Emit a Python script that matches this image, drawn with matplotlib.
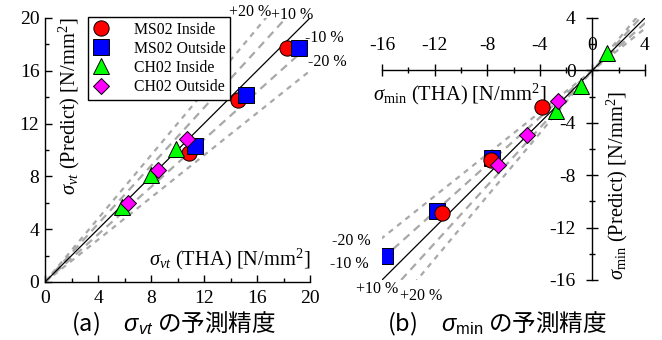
import numpy as np
import matplotlib
matplotlib.use("Agg")
import matplotlib.pyplot as plt
from matplotlib.ticker import MultipleLocator

plt.rcParams['axes.unicode_minus'] = False
plt.rcParams['axes.formatter.use_mathtext'] = False
plt.rcParams['mathtext.fontset'] = 'custom'
plt.rcParams['mathtext.rm'] = 'Liberation Serif'
plt.rcParams['mathtext.it'] = 'Liberation Serif:italic'
plt.rcParams['mathtext.bf'] = 'Liberation Sans:italic'
plt.rcParams['mathtext.sf'] = 'Liberation Sans'
plt.rcParams['font.family'] = ['Liberation Serif']

SERIF = 'Liberation Serif'

# ---------------- data ----------------
series_names = ['MS02 Inside', 'MS02 Outside', 'CH02 Inside', 'CH02 Outside']

# (a) sigma_vt
vt_ms_in_x = [18.3, 14.6, 10.9]
vt_ms_in_y = [17.7, 13.8, 9.8]
vt_ms_out_x = [19.2, 15.2, 11.3]
vt_ms_out_y = [17.7, 14.2, 10.3]
vt_ch_in_x = [9.9, 8.0, 5.8]
vt_ch_in_y = [10.1, 8.1, 5.7]
vt_ch_out_x = [10.7, 8.55, 6.3]
vt_ch_out_y = [10.8, 8.5, 6.0]

# (b) sigma_min
mn_ms_in_x = [-3.8, -7.7, -11.4]
mn_ms_in_y = [-2.8, -6.85, -10.85]
mn_ms_out_x = [-7.6, -11.8, -15.75]
mn_ms_out_y = [-6.7, -10.75, -14.2]
mn_ch_in_x = [1.1, -0.9, -2.8]
mn_ch_in_y = [1.3, -1.2, -3.1]
mn_ch_out_x = [-2.65, -4.95, -7.15]
mn_ch_out_y = [-2.35, -4.9, -7.2]

error_ratios = [1.2, 1.1, 0.9, 0.8]
error_labels = ['+20 %', '+10 %', '-10 %', '-20 %']

vt_ticks = [0, 4, 8, 12, 16, 20]
vt_ticklabels = ['0', '4', '8', '12', '16', '20']
mn_ticks = [-16, -12, -8, -4, 0, 4]
mn_ticklabels = ['-16', '-12', '-8', '-4', '0', '4']

# ---------------- style ----------------
colors = ['#ff0000', '#0000ff', '#00ff00', '#ff00ff']
markers = ['o', 's', '^', 'D']
msizes = [11, 11, 11, 8.5]
dash_styles = {1.2: (0, (2.4, 2.4)), 1.1: (0, (3.6, 2.6)),
               0.9: (0, (3.6, 2.6)), 0.8: (0, (2.4, 2.4))}
dash_color = '#a8a8a8'

W, H = 662, 340
fig = plt.figure(figsize=(W / 100, H / 100), dpi=100)

def fx(px):
    return px / W

def fy(py):
    return 1 - py / H

axL = fig.add_axes([fx(45), fy(282), fx(310) - fx(45), fy(18) - fy(282)])
axR = fig.add_axes([fx(382), fy(280), fx(645) - fx(382), fy(18) - fy(280)])

tick_fs = 14
label_fs = 14.8
pct_fs = 11.5

# ---------- left panel ----------
ax = axL
xx = np.array([0, 25])
for r in error_ratios:
    ax.plot(xx, r * xx, color=dash_color, lw=1.6, ls=dash_styles[r], zorder=1)
ax.plot(xx, xx, color='black', lw=0.9, zorder=2)

vt_data = [(vt_ms_in_x, vt_ms_in_y), (vt_ms_out_x, vt_ms_out_y),
           (vt_ch_in_x, vt_ch_in_y), (vt_ch_out_x, vt_ch_out_y)]
handles = []
for i, (x, y) in enumerate(vt_data):
    h, = ax.plot(x, y, ls='none', marker=markers[i], ms=msizes[i],
                 mfc=colors[i], mec='black', mew=0.7, zorder=3 + i,
                 label=series_names[i])
    handles.append(h)

ax.set_xlim(0, 20)
ax.set_ylim(0, 20)
ax.set_xticks(vt_ticks, labels=vt_ticklabels, fontfamily=SERIF)
ax.set_yticks(vt_ticks, labels=vt_ticklabels, fontfamily=SERIF)
ax.xaxis.set_minor_locator(MultipleLocator(2))
ax.yaxis.set_minor_locator(MultipleLocator(2))
ax.spines['top'].set_visible(False)
ax.spines['right'].set_visible(False)
for s in ['left', 'bottom']:
    ax.spines[s].set_linewidth(1.0)
ax.tick_params(which='major', direction='in', length=5, width=1.0,
               labelsize=tick_fs, pad=4)
ax.tick_params(which='minor', direction='in', length=3, width=1.0)
ax.tick_params(axis='x', pad=6)

ax.text(20, 1.75, r'$\sigma_{vt}$ (THA) [N/mm$^2$]', ha='right', va='center',
        fontsize=label_fs)
ax.text(1.85, 20, r'$\sigma_{vt}$ (Predict) [N/mm$^2$]', ha='center', va='top',
        rotation=90, fontsize=label_fs)

pct_pos_L = [(15.5, 20.45), (18.65, 20.2), (21.1, 18.5), (21.3, 16.7)]
for lab, (px_, py_) in zip(error_labels, pct_pos_L):
    ax.text(px_, py_, lab, ha='center', va='center', fontsize=pct_fs)

leg = ax.legend(handles=handles, loc='upper left',
                bbox_to_anchor=(fx(88), fy(17)), bbox_transform=fig.transFigure,
                fontsize=11.3, frameon=True, fancybox=False, framealpha=1,
                edgecolor='black', borderaxespad=0, borderpad=0.3,
                labelspacing=0.2, handlelength=1.0, handletextpad=1.6)
leg.get_frame().set_linewidth(1.0)

# ---------- right panel ----------
ax = axR
xx = np.array([-25, 6])
for r in error_ratios:
    ax.plot(xx, r * xx, color=dash_color, lw=1.6, ls=dash_styles[r], zorder=1)
ax.plot(xx, xx, color='black', lw=0.9, zorder=2)

mn_data = [(mn_ms_in_x, mn_ms_in_y), (mn_ms_out_x, mn_ms_out_y),
           (mn_ch_in_x, mn_ch_in_y), (mn_ch_out_x, mn_ch_out_y)]
zorders_R = [4, 3, 5, 6]
for i, (x, y) in enumerate(mn_data):
    ax.plot(x, y, ls='none', marker=markers[i], ms=msizes[i],
            mfc=colors[i], mec='black', mew=0.7, zorder=zorders_R[i])

ax.set_xlim(-16, 4)
ax.set_ylim(-16, 4)
ax.spines['bottom'].set_visible(False)
ax.spines['right'].set_visible(False)
ax.spines['top'].set_position(('data', 0))
ax.spines['left'].set_position(('data', 0))
for s in ['left', 'top']:
    ax.spines[s].set_linewidth(1.0)
ax.xaxis.set_ticks_position('top')
ax.set_xticks(mn_ticks, labels=mn_ticklabels, fontfamily=SERIF)
ax.set_yticks(mn_ticks, labels=mn_ticklabels, fontfamily=SERIF)
ax.xaxis.set_minor_locator(MultipleLocator(2))
ax.yaxis.set_minor_locator(MultipleLocator(2))
ax.tick_params(which='major', direction='inout', length=8, width=1.0,
               labelsize=tick_fs, pad=7.5)
ax.tick_params(which='minor', direction='inout', length=5, width=1.0)
ax.tick_params(axis='y', pad=8)

ax.text(-10.1, -1.85, r'$\sigma_{\mathrm{min}}$ (THA) [N/mm$^2$]', ha='center',
        va='center', fontsize=label_fs)
ax.text(1.9, -16, r'$\sigma_{\mathrm{min}}$ (Predict) [N/mm$^2$]', ha='center',
        va='bottom', rotation=90, fontsize=label_fs)

pct_pos_R = [(-13.0, -17.25), (-16.35, -16.7), (-18.5, -14.8), (-18.3, -13.05)]
for lab, (px_, py_) in zip(error_labels, pct_pos_R):
    ax.text(px_, py_, lab, ha='center', va='center', fontsize=pct_fs)

# ---------- captions ----------
fig.text(fx(174), fy(324), '(a)\u3000$\\mathbf{\\sigma}_{\\mathbf{vt}}$ の予測精度',
         ha='center', va='center', fontsize=17, family='Noto Sans CJK JP')
fig.text(fx(497), fy(324), '(b)\u3000$\\mathbf{\\sigma}_{\\mathsf{min}}$ の予測精度',
         ha='center', va='center', fontsize=17, family='Noto Sans CJK JP')

fig.savefig('out.png', dpi=100)
